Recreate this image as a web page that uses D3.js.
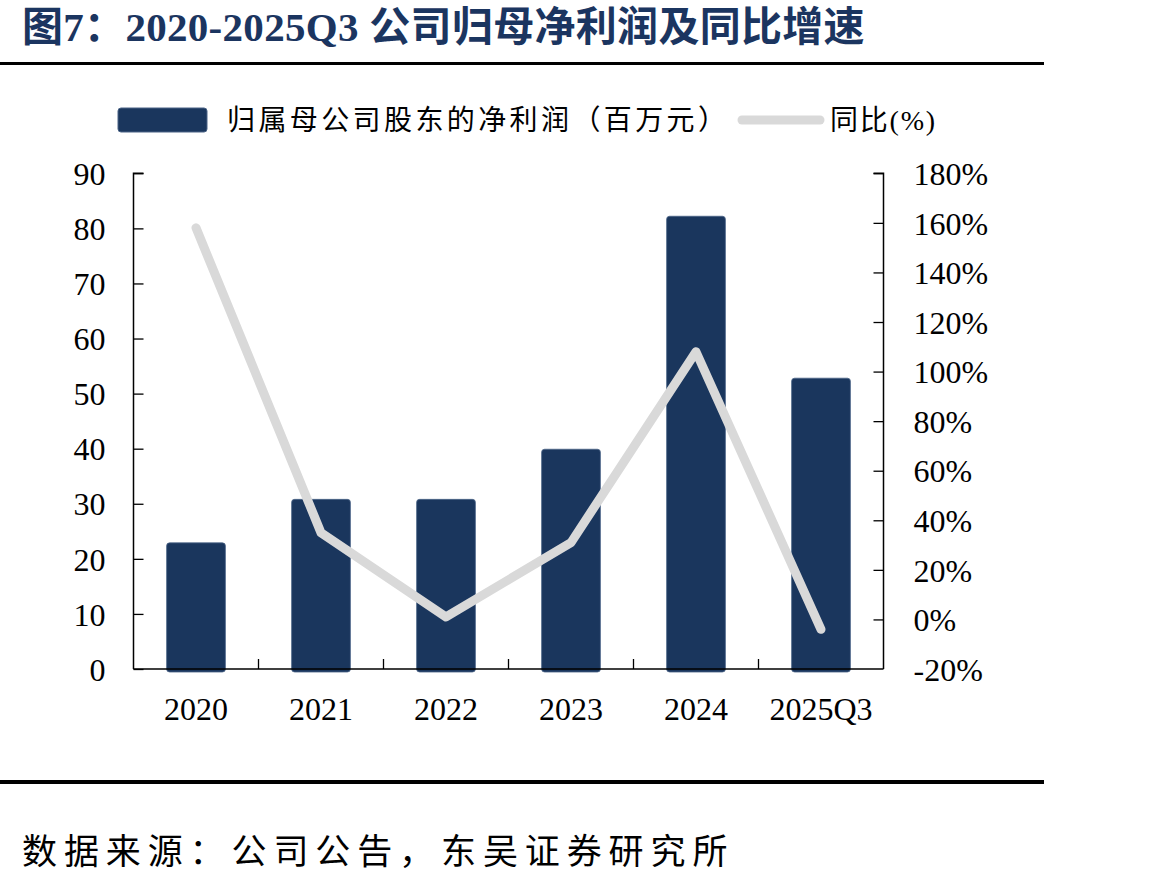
<!DOCTYPE html>
<html><head><meta charset="utf-8">
<script src="https://cdn.jsdelivr.net/npm/d3@7"></script>
<style>
body{margin:0;background:#fff;}
svg text{font-family:"Liberation Serif","Times New Roman","Noto Sans CJK SC",serif;}
</style></head>
<body><svg id="c" width="1151" height="885"></svg>
<script>
const categories = ["2020","2021","2022","2023","2024","2025Q3"];
const profit = [22.9, 30.8, 30.8, 39.9, 82.2, 52.8];
const yoy = [158, 35, 1, 31, 108, -4];
const leftTicks = [0,10,20,30,40,50,60,70,80,90];
const rightTicks = [-20,0,20,40,60,80,100,120,140,160,180];

const svg = d3.select("#c");
const L = 133.5, R = 883.5, T = 173.3, B = 669;
const barColor = "#1a365d", lineColor = "#d9d9d9", titleColor = "#1b3560";

// title
svg.append("text").attr("x", 22).attr("y", 41).attr("fill", titleColor)
  .attr("font-size", 41).attr("font-weight", "bold").attr("letter-spacing", 0.3)
  .text("图7：2020-2025Q3 公司归母净利润及同比增速");
svg.append("line").attr("x1", 0).attr("x2", 1044).attr("y1", 63.5).attr("y2", 63.5)
  .attr("stroke", "#000").attr("stroke-width", 3);
svg.append("line").attr("x1", 0).attr("x2", 1044).attr("y1", 782).attr("y2", 782)
  .attr("stroke", "#000").attr("stroke-width", 4);
svg.append("text").attr("x", 22).attr("y", 864).attr("font-size", 35).attr("letter-spacing", 6.9)
  .attr("fill", "#000")
  .text("数据来源：公司公告，东吴证券研究所");

// legend
svg.append("rect").attr("x", 118).attr("y", 108).attr("width", 89).attr("height", 24)
  .attr("rx", 3).attr("fill", barColor).attr("stroke", "#4a6386").attr("stroke-width", 1);
svg.append("text").attr("x", 227).attr("y", 130).attr("font-size", 28).attr("letter-spacing", 3.4)
  .attr("fill", "#000")
  .text("归属母公司股东的净利润（百万元）");
svg.append("line").attr("x1", 742).attr("x2", 820).attr("y1", 120).attr("y2", 120)
  .attr("stroke", lineColor).attr("stroke-width", 9).attr("stroke-linecap", "round");
svg.append("text").attr("x", 830).attr("y", 130).attr("font-size", 28).attr("letter-spacing", 1.8)
  .attr("fill", "#000")
  .text("同比(%)");

// scales
const x = d3.scaleBand().domain(categories).range([L, R]).paddingInner(0.53).paddingOuter(0.265);
const xb = d3.scaleBand().domain(categories).range([L, R]);
const y = d3.scaleLinear().domain([0, 90]).range([B, T]);
const y2 = d3.scaleLinear().domain([-20, 180]).range([B, T]);

// bars
svg.append("g").selectAll("rect").data(profit).join("rect")
  .attr("x", (d,i) => x(categories[i]))
  .attr("width", x.bandwidth())
  .attr("y", d => y(d))
  .attr("height", d => B + 3 - y(d))
  .attr("rx", 3)
  .attr("fill", barColor).attr("stroke", "#4a6386").attr("stroke-width", 0.8);

// axes
const gl = svg.append("g").attr("transform", `translate(${L},0)`)
  .call(d3.axisRight(y).tickValues(leftTicks).tickSize(10).tickFormat(d3.format("d")));
gl.select(".domain").attr("d", `M10,${T}H0V${B}`).attr("stroke", "#000").attr("stroke-width", 1.5);
gl.selectAll(".tick line").attr("stroke", "#000").attr("stroke-width", 1.3);
gl.selectAll(".tick text").attr("x", -28).attr("text-anchor", "end").attr("font-size", 32)
  .attr("fill", "#000").attr("dy", "0.35em");

const gr = svg.append("g").attr("transform", `translate(${R},0)`)
  .call(d3.axisLeft(y2).tickValues(rightTicks).tickSize(10).tickFormat(d => d + "%"));
gr.select(".domain").attr("d", `M-10,${T}H0V${B}`).attr("stroke", "#000").attr("stroke-width", 1.5);
gr.selectAll(".tick line").attr("stroke", "#000").attr("stroke-width", 1.3);
gr.selectAll(".tick text").attr("x", 30).attr("text-anchor", "start").attr("font-size", 32)
  .attr("fill", "#000").attr("dy", "0.35em");
gr.selectAll(".tick").filter(d => d === -20).select("line").remove();

// bottom axis
const gb = svg.append("g").attr("transform", `translate(0,${B})`)
  .call(d3.axisTop(xb).tickSize(0).tickFormat(""));
gb.select(".domain").attr("d", `M${L},0H${R}`).attr("stroke", "#000").attr("stroke-width", 1.5);
gb.selectAll(".tick").remove();
// category separator ticks
svg.append("g").selectAll("line").data(categories.slice(1)).join("line")
  .attr("x1", d => xb(d)).attr("x2", d => xb(d))
  .attr("y1", B).attr("y2", B - 10).attr("stroke", "#000").attr("stroke-width", 1.3);
svg.append("g").selectAll("text").data(categories).join("text")
  .attr("x", d => xb(d) + xb.bandwidth()/2).attr("y", B + 51)
  .attr("text-anchor", "middle").attr("font-size", 32).attr("fill", "#000")
  .text(d => d);

// line
const line = d3.line().x((d,i) => xb(categories[i]) + xb.bandwidth()/2).y(d => y2(d));
svg.append("path").datum(yoy).attr("d", line).attr("fill", "none")
  .attr("stroke", lineColor).attr("stroke-width", 9)
  .attr("stroke-linecap", "round").attr("stroke-linejoin", "round");
</script></body></html>
